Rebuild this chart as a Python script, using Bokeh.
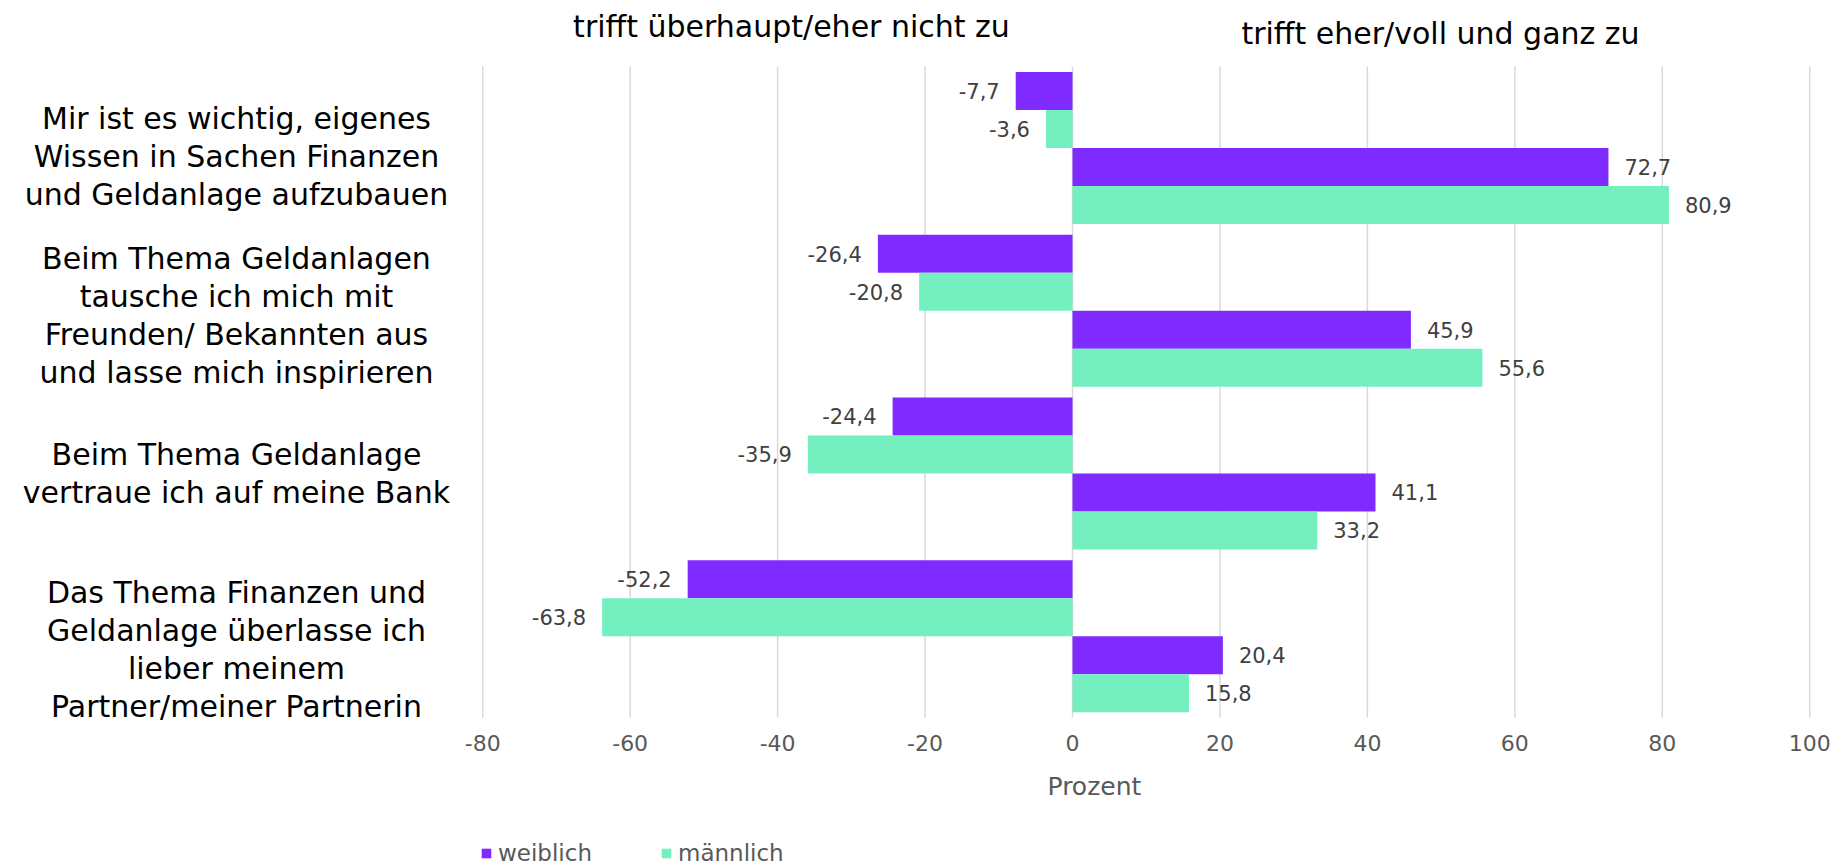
from bokeh.plotting import figure
from bokeh.layouts import column
from bokeh.models import (ColumnDataSource, Range1d, FixedTicker, LabelSet, Label,
                          Legend, LegendItem, Title)
from bokeh.core.properties import value
from bokeh.embed import file_html
from bokeh.resources import INLINE

# ---------------- data ----------------
categories = [
    "Mir ist es wichtig, eigenes\nWissen in Sachen Finanzen\nund Geldanlage aufzubauen",
    "Beim Thema Geldanlagen\ntausche ich mich mit\nFreunden/ Bekannten aus\nund lasse mich inspirieren",
    "Beim Thema Geldanlage\nvertraue ich auf meine Bank",
    "Das Thema Finanzen und\nGeldanlage überlasse ich\nlieber meinem\nPartner/meiner Partnerin",
]
series_names = ["weiblich", "männlich"]
weiblich_neg = [-7.7, -26.4, -24.4, -52.2]
maennlich_neg = [-3.6, -20.8, -35.9, -63.8]
weiblich_pos = [72.7, 45.9, 41.1, 20.4]
maennlich_pos = [80.9, 55.6, 33.2, 15.8]
x_ticks = [-80, -60, -40, -20, 0, 20, 40, 60, 80, 100]
side_titles = ["trifft überhaupt/eher nicht zu", "trifft eher/voll und ganz zu"]
axis_title = "Prozent"

# ---------------- layout / style ----------------
FONT = "DejaVu Sans"
W_COLOR = "#7F2BFF"
M_COLOR = "#74F0C0"
WIDTH = 1834
MAIN_H, LEG_H = 820, 48
PLOT_TOP, PLOT_BOTTOM = 66, 717      # extent of the gridlines (px)
FRAME_BOTTOM = 724
ZERO_X = 1072                         # pixel of x = 0
PX = (1809 - 482) / 180.0             # pixels per percent
PY = (PLOT_BOTTOM - PLOT_TOP) / len(categories)
X0 = -ZERO_X / PX
X1 = (WIDTH - ZERO_X) / PX
Y_TOP = -PLOT_TOP / PY
Y_BOT = (FRAME_BOTTOM - PLOT_TOP) / PY
BAR_H = 38 / PY
LINE_SP = 38
GROUP_SHIFT = [19.6, 15.7, 11.0, 24.0]


def x_at(fx):
    return X0 + fx / PX


def y_at(fy):
    return (fy - PLOT_TOP) / PY


def fmt(v):
    return f"{v:.1f}".replace(".", ",")


p = figure(frame_width=WIDTH, frame_height=FRAME_BOTTOM,
           min_border_left=0, min_border_right=0, min_border_top=0,
           min_border_bottom=MAIN_H - FRAME_BOTTOM,
           x_range=Range1d(X0, X1), y_range=Range1d(Y_BOT, Y_TOP),
           y_axis_location=None, toolbar_location=None, output_backend="svg")
p.outline_line_color = None
p.background_fill_color = "white"
p.border_fill_color = "white"
p.xgrid.grid_line_color = None
p.ygrid.grid_line_color = None

p.xaxis.ticker = FixedTicker(ticks=x_ticks)
p.xaxis.major_label_overrides = {t: str(t) for t in x_ticks}
p.xaxis.axis_line_color = None
p.xaxis.major_tick_line_color = None
p.xaxis.minor_tick_line_color = None
p.xaxis.major_tick_out = 0
p.xaxis.major_tick_in = 0
p.xaxis.major_label_standoff = 10
p.xaxis.major_label_text_font = FONT
p.xaxis.major_label_text_font_size = "22px"
p.xaxis.major_label_text_color = "#595959"

# vertical gridlines, only over the bar area
p.segment(x0=x_ticks, x1=x_ticks, y0=[0] * len(x_ticks),
          y1=[len(categories)] * len(x_ticks), line_color="#D9D9D9", line_width=1.5)

series = [
    (weiblich_neg, W_COLOR, -1.5),
    (maennlich_neg, M_COLOR, -0.5),
    (weiblich_pos, W_COLOR, 0.5),
    (maennlich_pos, M_COLOR, 1.5),
]
sources = []
for vals, color, off in series:
    ys = [i + 0.5 + off * BAR_H for i in range(len(categories))]
    src = ColumnDataSource(dict(y=ys, v=vals, t=[fmt(v) for v in vals]))
    sources.append(src)
    p.hbar(y="y", left=0, right="v", height=BAR_H, fill_color=color,
           line_color=None, source=src)
    neg = vals[0] < 0
    p.add_layout(LabelSet(x="v", y="y", text="t", source=src,
                          x_offset=-16 if neg else 16,
                          text_align="right" if neg else "left",
                          text_baseline="middle", text_font=value(FONT),
                          text_font_size="21px", text_color="#404040"))

# category labels (one entry per line)
cx, cy, ct = [], [], []
for i, cat in enumerate(categories):
    lines = cat.split("\n")
    n = len(lines)
    center = PLOT_TOP + PY * (i + 0.5) + GROUP_SHIFT[i]
    for k, line in enumerate(lines):
        cx.append(x_at(236))
        cy.append(y_at(center + LINE_SP * (k - (n - 1) / 2)))
        ct.append(line)
p.add_layout(LabelSet(x="x", y="y", text="t",
                      source=ColumnDataSource(dict(x=cx, y=cy, t=ct)),
                      text_align="center", text_baseline="alphabetic",
                      text_font=value(FONT), text_font_size="30px",
                      text_color="#000000"))

# titles over the two halves
p.add_layout(Label(x=x_at(791), y=y_at(26), text=side_titles[0], text_align="center",
                   text_baseline="alphabetic", text_font=FONT, text_font_size="30px",
                   text_color="#000000"))
p.add_layout(Label(x=x_at(1440), y=y_at(33), text=side_titles[1], text_align="center",
                   text_baseline="alphabetic", text_font=FONT, text_font_size="30px",
                   text_color="#000000"))

# axis title, below the tick labels
p.add_layout(Title(text=axis_title, align="left", offset=1047, standoff=32,
                   text_font=FONT, text_font_size="25px", text_font_style="normal",
                   text_color="#595959"), "below")

# legend strip under the chart (its glyphs lie outside the visible ranges)
q = figure(width=WIDTH, height=LEG_H, min_border=0,
           x_range=Range1d(500, 501), y_range=Range1d(500, 501),
           x_axis_location=None, y_axis_location=None,
           toolbar_location=None, output_backend="svg")
q.outline_line_color = None
q.xgrid.grid_line_color = None
q.ygrid.grid_line_color = None
rw = q.hbar(y="y", left=0, right="v", height=0.5, fill_color=W_COLOR,
            line_color=None, source=sources[0])
rm = q.hbar(y="y", left=0, right="v", height=0.5, fill_color=M_COLOR,
            line_color=None, source=sources[1])
legend = Legend(items=[LegendItem(label=series_names[0], renderers=[rw]),
                       LegendItem(label=series_names[1], renderers=[rm])],
                orientation="horizontal", location=(480, 2),
                glyph_width=12, glyph_height=12, label_standoff=6, spacing=0,
                label_width=162, label_height=20, padding=0, margin=0,
                border_line_color=None, background_fill_alpha=0,
                label_text_font=FONT, label_text_font_size="23px",
                label_text_color="#595959")
q.add_layout(legend, "center")

layout = column(p, q, spacing=0)
open("out.html", "w").write(file_html(layout, INLINE))
